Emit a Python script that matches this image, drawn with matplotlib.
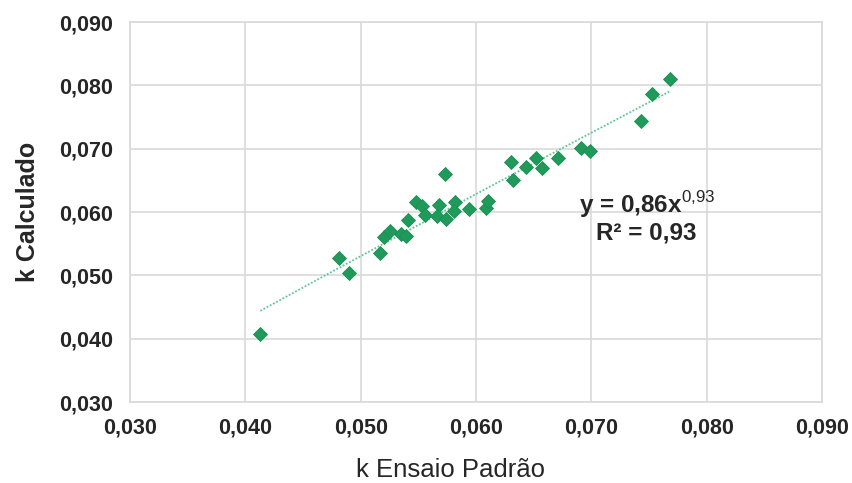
import numpy as np
import matplotlib
matplotlib.use("Agg")
import matplotlib.pyplot as plt

plt.rcParams['font.family'] = ['Liberation Sans', 'DejaVu Sans']
plt.rcParams['mathtext.fontset'] = 'custom'
plt.rcParams['mathtext.rm'] = 'Liberation Sans'
plt.rcParams['mathtext.bf'] = 'Liberation Sans:bold'

k_ensaio = [0.0413, 0.0481, 0.0490, 0.0517, 0.0520, 0.0525, 0.0535, 0.0539,
            0.0541, 0.0548, 0.0553, 0.0556, 0.0568, 0.0566, 0.0573, 0.0574,
            0.0582, 0.0581, 0.0594, 0.0609, 0.0610, 0.0630, 0.0632, 0.0643,
            0.0652, 0.0657, 0.0671, 0.0691, 0.0699, 0.0743, 0.0753, 0.0768]
k_calc = [0.0408, 0.0528, 0.0504, 0.0536, 0.0560, 0.0570, 0.0566, 0.0562,
          0.0588, 0.0616, 0.0609, 0.0595, 0.0611, 0.0594, 0.0660, 0.0589,
          0.0616, 0.0602, 0.0605, 0.0607, 0.0618, 0.0679, 0.0650, 0.0671,
          0.0685, 0.0669, 0.0686, 0.0701, 0.0697, 0.0744, 0.0787, 0.0810]

x_ticks = [0.030, 0.040, 0.050, 0.060, 0.070, 0.080, 0.090]
y_ticks = [0.030, 0.040, 0.050, 0.060, 0.070, 0.080, 0.090]
fit_a = 0.86
fit_b = 0.93
r2 = 0.93

fig = plt.figure(figsize=(8.52, 4.83), dpi=100)
ax = fig.add_axes([130/852, 1-402/483, (822-130)/852, (402-22)/483])

grid_c = '#d9d9d9'
txt_c = '#262626'

xs = np.array(k_ensaio)
xf = np.linspace(xs.min(), xs.max(), 200)
ax.plot(xf, fit_a * xf**fit_b, linestyle=(0, (1, 1)), color='#5cc795', lw=1.3, zorder=2)
ax.plot(k_ensaio, k_calc, linestyle='none', marker='D', markersize=6.8,
        color='#1f9a5b', markeredgecolor='#1a8f52', markeredgewidth=0.6, zorder=3)

ax.set_xlim(0.030, 0.090)
ax.set_ylim(0.030, 0.090)
ax.set_xticks(x_ticks)
ax.set_yticks(y_ticks)
fmt = lambda v: f"{v:.3f}".replace('.', ',')
ax.set_xticklabels([fmt(v) for v in x_ticks], fontsize=15.5, fontweight='bold', color=txt_c)
ax.set_yticklabels([fmt(v) for v in y_ticks], fontsize=15.5, fontweight='bold', color=txt_c)
ax.tick_params(axis='y', length=0, pad=12)
ax.tick_params(axis='x', length=0, pad=11)
ax.grid(True, color=grid_c, lw=1.2)
ax.set_axisbelow(True)
for s in ax.spines.values():
    s.set_color(grid_c)
    s.set_linewidth(1.2)

ax.set_xlabel('k Ensaio Padrão', fontsize=18.5, color=txt_c)
ax.xaxis.set_label_coords((451-130)/692, -(477-402)/380, transform=ax.transAxes)
ax.xaxis.label.set_va('baseline')
ax.set_ylabel('k Calculado', fontsize=18, fontweight='bold', color=txt_c, labelpad=14)

ax.text(0.0689, 0.0598, r"y = 0,86x$^{\mathrm{0{,}93}}$".replace('0,86', f"{fit_a:.2f}".replace('.', ',')),
        fontsize=17.5, fontweight='bold', color=txt_c, ha='left', va='baseline')
ax.text(0.0704, 0.0557, f"R² = {r2:.2f}".replace('.', ','),
        fontsize=17.5, fontweight='bold', color=txt_c, ha='left', va='baseline')

fig.savefig('out.png', dpi=100)
